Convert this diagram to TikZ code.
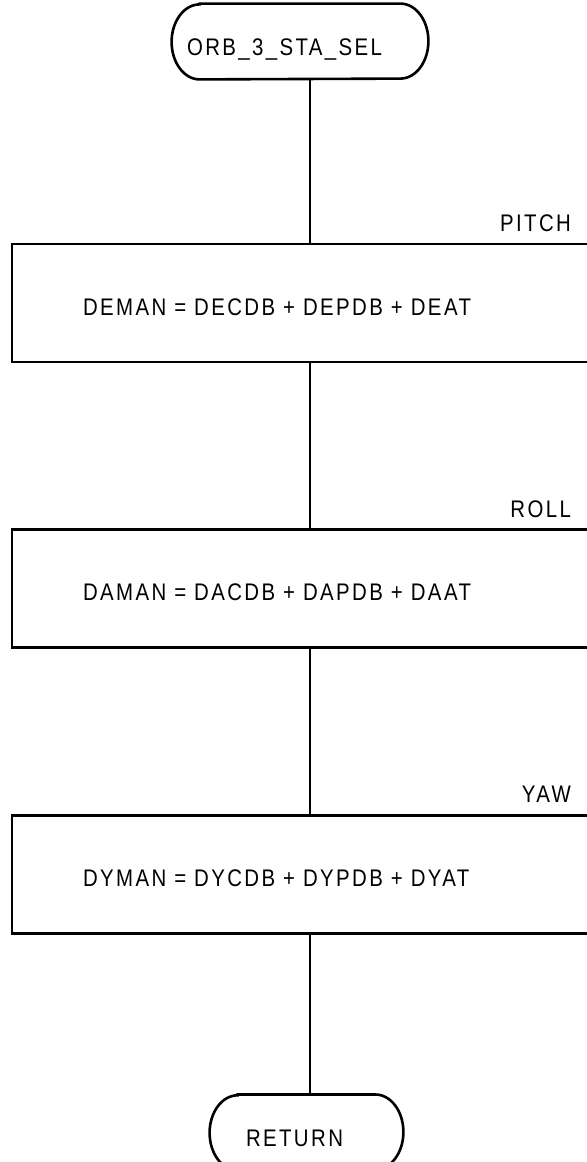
\documentclass[tikz,border=0pt]{standalone}
\usepackage{fontspec}
\setmainfont{Liberation Sans}[FakeStretch=0.85, LetterSpace=10]
\usetikzlibrary{positioning}

% outline of a terminal node: flat top and bottom, elliptic ends
\newcommand\termoutline[1]{%
  \draw[line] ([xshift=14pt]#1.north west) -- ([xshift=-14pt]#1.north east)
    arc[start angle=90, end angle=-90, x radius=14pt, y radius=18.75pt]
    -- ([xshift=14pt]#1.south west)
    arc[start angle=270, end angle=90, x radius=14pt, y radius=18.75pt] -- cycle;}

\begin{document}
\begin{tikzpicture}[
    node distance=82.5pt,
    font=\fontsize{12}{14}\selectfont,
    line/.style={line width=1.3pt},
    term/.style={minimum height=37.5pt, align=left, text height=14pt, text depth=0pt},
    box/.style={draw, line width=1.3pt, minimum height=59pt, text width=227pt, inner xsep=35.5pt, align=left, text height=12pt, text depth=0pt},
    lbl/.style={anchor=base east, inner sep=0pt}
]
    \useasboundingbox (0,0) rectangle (293pt,-581pt);

    \node[term, text width=113pt, inner xsep=7.5pt] (start) at (150pt,-20.75pt) {ORB\_3\_STA\_SEL};
    \node[box] (pitch) at (155pt,-151.5pt) {DEMAN = DECDB + DEPDB + DEAT};
    \node[box, below=of pitch] (roll) {DAMAN = DACDB + DAPDB + DAAT};
    \node[box, below=of roll] (yaw) {DYMAN = DYCDB + DYPDB + DYAT};
    \node[term, text width=60.5pt, inner xsep=18pt, below=80pt of yaw, xshift=-1.75pt] (ret) {RETURN};
    \termoutline{start}
    \termoutline{ret}

    \node[lbl] (pitchlbl) at ([xshift=-19pt, yshift=5.5pt]pitch.north east) {PITCH};
    \node[lbl] (rolllbl) at ([xshift=-19pt, yshift=5.5pt]roll.north east) {ROLL};
    \node[lbl] (yawlbl) at ([xshift=-19pt, yshift=5.5pt]yaw.north east) {YAW};

    \draw[line] (pitch.north |- start.south) -- (pitch.north);
    \draw[line] (pitch.south) -- (roll.north);
    \draw[line] (roll.south) -- (yaw.north);
    \draw[line] (yaw.south) -- (yaw.south |- ret.north);
\end{tikzpicture}
\end{document}
